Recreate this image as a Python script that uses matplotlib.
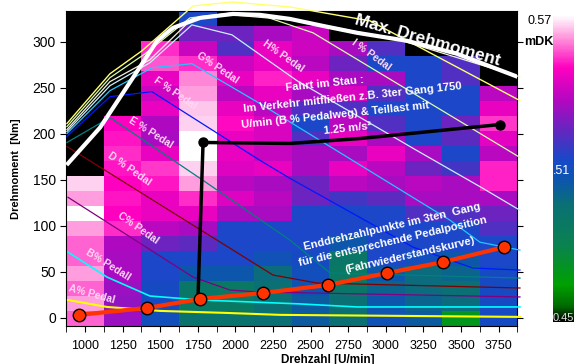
import numpy as np
import matplotlib.pyplot as plt
from matplotlib.colors import LinearSegmentedColormap

plt.rcParams['font.family'] = ['Liberation Sans', 'DejaVu Sans']

# map grid: 12 speed columns (250 U/min), 21 torque rows
rpm_edges = np.arange(875, 3876, 250)
nm_edges = np.linspace(-8.8, 333.6, 22)

N = np.nan
# mDK per cell, top row first
mdk_rows = [
    [N, N, N, .514, N, N, N, N, N, N, N, N],
    [N, N, N, .526, .526, .535, .540, N, N, N, N, N],
    [N, N, .553, .540, .522, .546, .541, .535, .522, N, N, N],
    [N, N, .556, .553, .541, .546, .538, .526, .514, .514, .522, N],
    [N, N, .546, .560, .546, .552, .546, .535, .535, .514, .522, N],
    [N, N, .541, .562, .538, .546, .535, .543, .522, .514, .514, .538],
    [N, N, .546, .565, .546, .538, .522, .522, .514, .514, .514, .546],
    [N, .549, .536, .566, .550, .543, .514, .538, .522, .514, .526, .554],
    [N, .551, .535, .570, .546, .543, .522, .546, .535, .514, .524, .545],
    [N, .553, .546, .570, .546, .540, .535, .535, .546, .535, .514, .538],
    [N, .551, .554, .566, .544, .546, .535, .546, .538, .526, .520, .552],
    [.566, .549, .551, .562, .538, .535, .526, .538, .535, .538, .535, .552],
    [.562, .551, .546, .553, .544, .538, .526, .520, .524, .535, .535, .535],
    [.570, .549, .546, .546, .535, .535, .514, .514, .514, .522, .522, .526],
    [.562, .553, .538, .535, .514, .514, .514, .514, .514, .514, .514, .522],
    [.557, .536, .526, .524, .514, .514, .514, .505, .514, .514, .514, .514],
    [.557, .535, .514, .514, .514, .508, .512, .490, .514, .510, .505, .514],
    [.562, .535, .514, .505, .505, .497, .510, .488, .505, .497, .500, .512],
    [.557, .533, .512, .490, .488, .495, .507, .490, .500, .497, .495, .512],
    [.562, .532, .512, .488, .488, .495, .503, .495, .505, .500, .497, .512],
    [.557, .533, .510, .493, .493, .495, .503, .495, .508, .503, .470, .512],
]
mdk = np.flipud(np.array(mdk_rows))

# pedal curves (rpm, Nm)
ped_K_rpm = [880, 1166, 1379, 1718, 1977, 2363, 2895, 3892]
ped_K_nm = [211.3, 265.4, 290.4, 339.1, 343.4, 338.0, 322.9, 236.2]
ped_I_rpm = [880, 1166, 1399, 1698, 1977, 2164, 2516, 3892]
ped_I_nm = [208.0, 261.1, 287.1, 326.1, 331.5, 329.4, 309.9, 174.4]
ped_J_rpm = [880, 1166, 1432, 1711, 1977, 2430, 3094, 3892]
ped_J_nm = [204.8, 256.8, 280.6, 325.0, 329.4, 323.0, 302.0, 262.0]
ped_H_rpm = [880, 1166, 1432, 1711, 1977, 2410, 3207, 3646, 3892]
ped_H_nm = [202.6, 252.4, 277.4, 318.5, 307.7, 257.8, 181.9, 140.8, 117.0]
ped_G_rpm = [880, 1166, 1445, 1711, 2164, 3427, 3626, 3892]
ped_G_nm = [200.4, 247.0, 271.9, 276.3, 232.9, 106.2, 82.3, 73.7]
ped_F_rpm = [880, 1166, 1445, 2164, 2363, 3181, 3580, 3892]
ped_F_nm = [197.2, 240.5, 245.9, 171.2, 151.7, 76.9, 54.2, 52.0]
ped_E_rpm = [880, 1166, 1785, 2363, 2629, 3892]
ped_E_nm = [190.7, 217.8, 149.5, 84.5, 48.8, 43.3]
ped_D_rpm = [880, 1984, 2250, 2543, 3892]
ped_D_nm = [186.3, 73.7, 46.6, 37.9, 32.5]
ped_C_rpm = [887, 1718, 1964, 2144, 3892]
ped_C_nm = [131.1, 44.4, 30.3, 28.2, 22.8]
ped_B_rpm = [887, 1146, 1432, 1765, 2430, 2809, 3892]
ped_B_nm = [71.5, 44.4, 23.8, 19.5, 15.2, 11.9, 11.9]
ped_A_rpm = [887, 1146, 1499, 1944, 2297, 3892]
ped_A_nm = [19.5, 11.9, 7.6, 5.4, 3.3, 1.1]

max_rpm = [887, 1100, 1319, 1479, 1585, 1765, 1984, 2164, 2363, 2582, 2809, 3141, 3473, 3892]
max_nm = [167.9, 206.9, 261.1, 301.2, 315.3, 326.1, 330.4, 329.4, 325.0, 317.4, 309.9, 301.2, 287.1, 261.1]

stau_rpm = [1751, 1785, 2363, 2829, 3759]
stau_nm = [19.5, 190.7, 189.6, 195.0, 210.2]

end_rpm = [960, 1412, 1765, 2184, 2616, 3008, 3380, 3786]
end_nm = [3.3, 10.8, 20.6, 27.1, 35.8, 48.8, 60.7, 76.9]

cmap = LinearSegmentedColormap.from_list('mdk', [
    (0.0, '#000000'), (0.05, '#006a00'), (0.12, '#00a000'), (0.25, '#0a8250'),
    (0.38, '#0a7074'), (0.46, '#0c56ac'), (0.53, '#1848c8'), (0.62, '#6028c0'),
    (0.72, '#b008c0'), (0.83, '#ff00c0'), (0.92, '#ff8ad8'), (1.0, '#ffffff')])

fig = plt.figure(figsize=(5.74, 3.64), dpi=100)
ax = fig.add_axes([66.2/574, 38/364, 451.2/574, 315/364])
ax.set_facecolor('black')
mesh = ax.pcolormesh(rpm_edges, nm_edges, np.ma.masked_invalid(mdk),
                     cmap=cmap, vmin=0.45, vmax=0.57)

curves = [
    (ped_K_rpm, ped_K_nm, '#ffff70', 1.0),
    (ped_I_rpm, ped_I_nm, '#d8ffa8', 0.9),
    (ped_J_rpm, ped_J_nm, '#f4f4e0', 0.9),
    (ped_H_rpm, ped_H_nm, '#c8f0ff', 0.9),
    (ped_G_rpm, ped_G_nm, '#20c8ff', 0.9),
    (ped_F_rpm, ped_F_nm, '#0018ff', 0.9),
    (ped_E_rpm, ped_E_nm, '#008080', 0.9),
    (ped_D_rpm, ped_D_nm, '#800000', 0.9),
    (ped_C_rpm, ped_C_nm, '#800080', 0.9),
    (ped_B_rpm, ped_B_nm, '#00ffff', 1.2),
    (ped_A_rpm, ped_A_nm, '#ffff00', 1.5),
]
for xs, ys, c, lw in curves:
    ax.plot(xs, ys, color=c, lw=lw, clip_on=False, zorder=3)

ax.plot(max_rpm, max_nm, color='white', lw=3, zorder=4)
ax.plot(stau_rpm, stau_nm, color='black', lw=2.5, zorder=5)
ax.plot([stau_rpm[1], stau_rpm[-1]], [stau_nm[1], stau_nm[-1]], 'o',
        color='black', ms=6.5, zorder=6)
ax.plot(end_rpm, end_nm, color='#ff3300', lw=3, marker='o', ms=9,
        mfc='#ff3300', mec='black', mew=1, zorder=7)

lbl = dict(color='#ffd8f4', fontsize=7.5, fontweight='bold', ha='center',
           va='center', zorder=8)
ax.text(2317, 285, 'H% Pedal', rotation=-35, **lbl)
ax.text(2902, 286, 'I % Pedal', rotation=-36, **lbl)
ax.text(1884, 272, 'G% Pedal', rotation=-34, **lbl)
ax.text(1598, 244, 'F % Pedal', rotation=-34, **lbl)
ax.text(1439, 201.5, 'E % Pedal', rotation=-32, **lbl)
ax.text(1293, 161.4, 'D % Pedal', rotation=-35, **lbl)
ax.text(1352, 97.5, 'C% Pedal', rotation=-35, **lbl)
ax.text(1153, 57.4, 'B% Pedall', rotation=-32, **lbl)
ax.text(1047, 26, 'A% Pedal', rotation=-15, **lbl)

ax.text(3280, 302, 'Max. Drehmoment', rotation=-16, color='white',
        fontsize=12.5, fontweight='bold', ha='center', va='center', zorder=8)

txt = dict(color='white', fontsize=8, fontweight='bold', ha='center',
           va='center', zorder=8)
ax.text(2596, 254.6, 'Fahrt im Stau :', rotation=6, **txt)
ax.text(2782, 239.4, 'Im Verkehr mitfließen z.B. 3ter Gang 1750', rotation=6, **txt)
ax.text(2662, 219.9, 'U/min (B % Pedalweg) & Teillast mit', rotation=6, **txt)
ax.text(2749, 205.8, '1.25 m/s²', rotation=6, **txt)
ax.text(3041, 98.6, 'Enddrehzahlpunkte im 3ten  Gang', rotation=13, **txt)
ax.text(3048, 83.4, 'für die entsprechende Pedalposition', rotation=13, **txt)
ax.text(3161, 68.3, '(Fahrwiederstandskurve)', rotation=13, **txt)

ax.set_xlim(875, 3875)
ax.set_ylim(-8.8, 333.6)
ax.set_xticks(range(1000, 3751, 250))
ax.set_xticks(np.arange(875, 3876, 250), minor=True)
ax.set_yticks(range(0, 301, 50))
ax.tick_params(axis='x', which='both', length=4, labelsize=9, pad=6)
ax.tick_params(axis='y', length=4, labelsize=10, right=True)
ax.set_ylabel('Drehmoment  [Nm]', fontsize=8, fontweight='bold', labelpad=8)
fig.text(328/574, 1 - 359.5/364, 'Drehzahl [U/min]', fontsize=8.5,
         fontweight='bold', ha='center', va='center')

cax = fig.add_axes([553/574, 42/364, 0.06, 307/364])
cb = fig.colorbar(mesh, cax=cax)
cb.outline.set_visible(False)
cax.set_yticks([])
fig.text(540/574, 1 - 21/364, '0.57', fontsize=9, ha='center', va='center')
fig.text(539/574, 1 - 42/364, 'mDK', fontsize=9, fontweight='bold',
         ha='center', va='center')
fig.text(553/574, 1 - 171/364, '.51', fontsize=9, color='white',
         ha='left', va='center')
fig.text(553/574, 1 - 318/364, '0.45', fontsize=8, color='#e0e0e0',
         ha='left', va='center')

fig.savefig('out.png', dpi=100)
